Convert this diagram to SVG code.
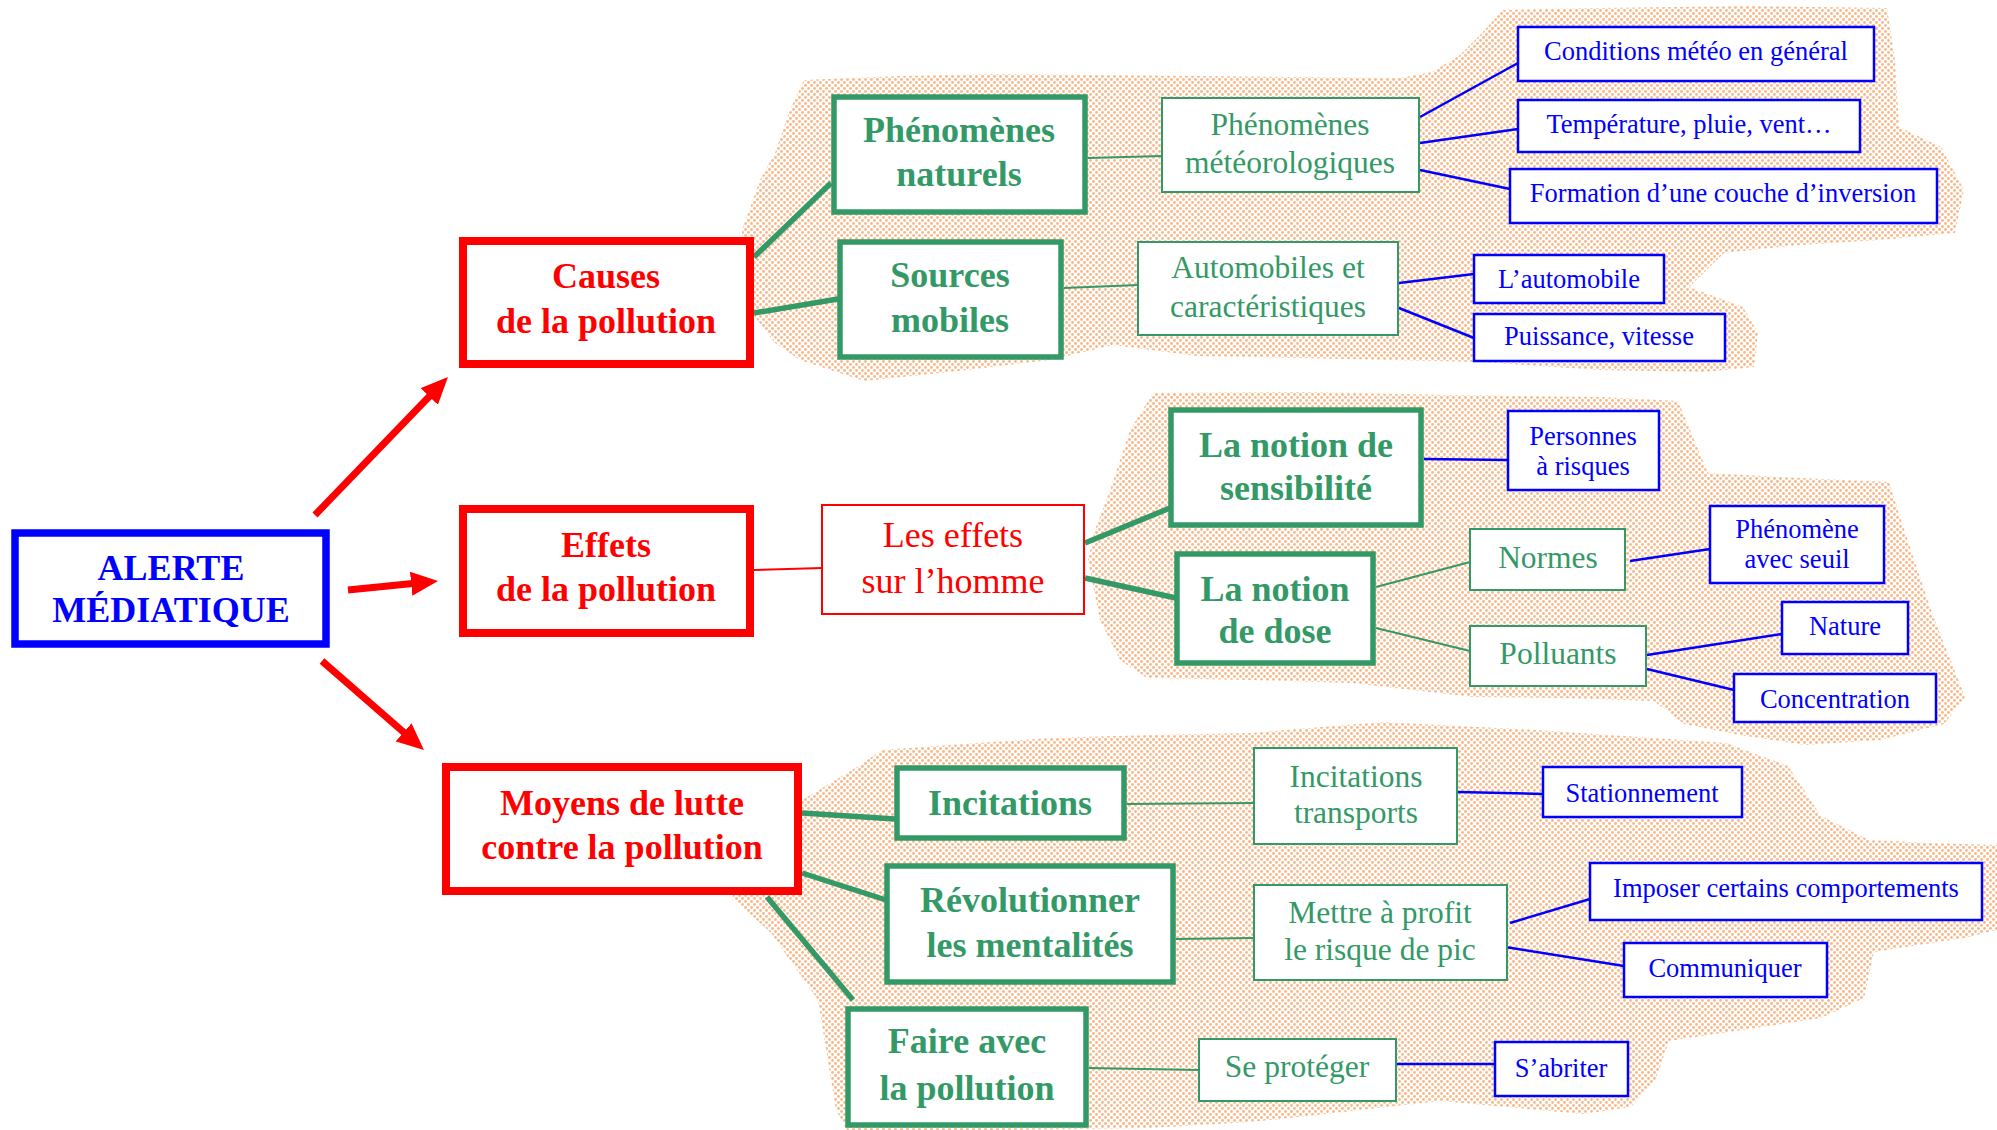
<svg xmlns="http://www.w3.org/2000/svg" width="1997" height="1130" viewBox="0 0 1997 1130">
<style>
text{font-family:"Liberation Serif","Times New Roman",serif;text-anchor:middle}
.b{font-weight:bold;font-size:36px}
.gR{fill:#339966;font-size:31.5px}
.rR{fill:#ff0000;font-size:36px}
.bl{fill:#0000ff;font-size:26.5px}
.boxB{fill:#fff;stroke:#0000ff;stroke-width:7.5}
.boxR{fill:#fff;stroke:#ff0000;stroke-width:8}
.boxG{fill:#fff;stroke:#339966;stroke-width:5.5}
.boxg{fill:#fff;stroke:#339966;stroke-width:2}
.boxr{fill:#fff;stroke:#ff0000;stroke-width:2}
.boxb{fill:#fff;stroke:#0000ff;stroke-width:2.5}
.cG{stroke:#339966;stroke-width:5.5;fill:none}
.cg{stroke:#339966;stroke-width:2;fill:none}
.cr{stroke:#ff0000;stroke-width:2;fill:none}
.cb{stroke:#0000ff;stroke-width:2.5;fill:none}
.arr{stroke:#ff0000;stroke-width:7;fill:none;marker-end:url(#ah)}
.blob{fill:url(#dots);stroke:none}
</style>
<defs>
<pattern id="dots" width="6" height="6" patternUnits="userSpaceOnUse">
<circle cx="1.5" cy="1.5" r="1.45" fill="#f9b887"/>
<circle cx="4.5" cy="4.5" r="1.45" fill="#f9b887"/>
</pattern>
<marker id="ah" markerUnits="userSpaceOnUse" markerWidth="27" markerHeight="24" viewBox="0 0 27 24" refX="9" refY="12" orient="auto">
<path d="M0,0 L27,12 L0,24 z" fill="#ff0000"/>
</marker>
</defs>
<rect width="1997" height="1130" fill="#fff"/>
<g id="backgrounds">
<path class="blob" d="M804,80 L900,76 L1000,74 L1200,76 L1400,78 L1432,72 L1460,55 L1480,35 L1503,10 L1600,8 L1750,6 L1887,8 L1895,60 L1899,127 L1941,147 L1964,190 L1955,233 L1880,240 L1800,245 L1724,253 L1689,287 L1743,307 L1758,333 L1754,367 L1705,372 L1600,370 L1480,362 L1300,358 L1197,356 L1113,345 L1050,360 L950,372 L864,381 L800,360 L775,343 L742,300 L742,230 L760,180 L775,153 L790,110 Z"/>
<path class="blob" d="M1153,393 L1300,392 L1450,395 L1600,397 L1678,401 L1690,430 L1708,473 L1800,478 L1889,482 L1901,520 L1932,613 L1965,697 L1944,724 L1880,740 L1805,745 L1740,735 L1684,724 L1654,701 L1560,698 L1473,697 L1352,683 L1250,680 L1147,678 L1120,660 L1100,620 L1088,560 L1095,530 L1110,490 L1130,430 Z"/>
<path class="blob" d="M882,750 L950,745 L1050,738 L1150,735 L1250,733 L1383,722 L1536,730 L1726,743 L1788,766 L1821,816 L1869,840 L1930,843 L1997,845 L1997,930 L1964,938 L1874,952 L1864,998 L1821,1018 L1669,1041 L1655,1081 L1631,1107 L1583,1114 L1440,1101 L1298,1117 L1250,1122 L1150,1128 L1000,1130 L847,1130 L836,1110 L829,1067 L818,1000 L790,960 L771,933 L740,905 L732,897 L760,830 L807,797 L857,767 Z"/>
</g>
<g id="connectors">
<line class="arr" x1="315" y1="515" x2="435.5" y2="390"/>
<line class="arr" x1="348" y1="590" x2="420.1" y2="582.8"/>
<line class="arr" x1="322" y1="661" x2="410.4" y2="738.2"/>
<line class="cG" x1="754" y1="257" x2="831" y2="183"/>
<line class="cG" x1="754" y1="313" x2="838" y2="299"/>
<line class="cG" x1="1085" y1="543" x2="1170" y2="508"/>
<line class="cG" x1="1085" y1="578" x2="1176" y2="598"/>
<line class="cG" x1="802" y1="813" x2="895" y2="819"/>
<line class="cG" x1="802" y1="873" x2="886" y2="900"/>
<line class="cG" x1="767" y1="897" x2="853" y2="1000"/>
<line class="cg" x1="1088" y1="158" x2="1162" y2="156"/>
<line class="cg" x1="1064" y1="288" x2="1138" y2="285"/>
<line class="cg" x1="1376" y1="587" x2="1470" y2="562"/>
<line class="cg" x1="1376" y1="628" x2="1470" y2="651"/>
<line class="cg" x1="1127" y1="804" x2="1254" y2="803"/>
<line class="cg" x1="1176" y1="939" x2="1254" y2="938"/>
<line class="cg" x1="1089" y1="1068" x2="1199" y2="1070"/>
<line class="cr" x1="754" y1="570" x2="822" y2="568"/>
<line class="cb" x1="1420" y1="117" x2="1518" y2="63"/>
<line class="cb" x1="1420" y1="143" x2="1518" y2="129"/>
<line class="cb" x1="1420" y1="170" x2="1510" y2="189"/>
<line class="cb" x1="1399" y1="283" x2="1474" y2="274"/>
<line class="cb" x1="1399" y1="308" x2="1474" y2="338"/>
<line class="cb" x1="1424" y1="459" x2="1508" y2="460"/>
<line class="cb" x1="1630" y1="561" x2="1710" y2="549"/>
<line class="cb" x1="1647" y1="655" x2="1782" y2="634"/>
<line class="cb" x1="1647" y1="669" x2="1734" y2="690"/>
<line class="cb" x1="1458" y1="792" x2="1543" y2="794"/>
<line class="cb" x1="1510" y1="923" x2="1590" y2="899"/>
<line class="cb" x1="1505" y1="947" x2="1624" y2="966"/>
<line class="cb" x1="1397" y1="1064" x2="1495" y2="1064"/>
</g>
<g id="alerte"><rect class="boxB" x="15" y="533" width="311" height="111"/><text class="b" fill="#0000ff" x="171" y="580">ALERTE</text><text class="b" fill="#0000ff" x="171" y="622">MÉDIATIQUE</text></g>
<g id="causes"><rect class="boxR" x="463" y="241" width="287" height="123"/><text class="b" fill="#ff0000" x="606" y="288">Causes</text><text class="b" fill="#ff0000" x="606" y="333">de la pollution</text></g>
<g id="effets"><rect class="boxR" x="463" y="509" width="287" height="124"/><text class="b" fill="#ff0000" x="606" y="557">Effets</text><text class="b" fill="#ff0000" x="606" y="601">de la pollution</text></g>
<g id="moyens"><rect class="boxR" x="446" y="767" width="352" height="124"/><text class="b" fill="#ff0000" x="622" y="815">Moyens de lutte</text><text class="b" fill="#ff0000" x="622" y="859">contre la pollution</text></g>
<g id="phen-naturels"><rect class="boxG" x="834" y="97" width="251" height="115"/><text class="b" fill="#339966" x="959" y="142">Phénomènes</text><text class="b" fill="#339966" x="959" y="186">naturels</text></g>
<g id="sources-mobiles"><rect class="boxG" x="840" y="242" width="221" height="115"/><text class="b" fill="#339966" x="950" y="287">Sources</text><text class="b" fill="#339966" x="950" y="332">mobiles</text></g>
<g id="sensibilite"><rect class="boxG" x="1171" y="410" width="250" height="115"/><text class="b" fill="#339966" x="1296" y="457">La notion de</text><text class="b" fill="#339966" x="1296" y="500">sensibilité</text></g>
<g id="dose"><rect class="boxG" x="1177" y="554" width="196" height="109"/><text class="b" fill="#339966" x="1275" y="601">La notion</text><text class="b" fill="#339966" x="1275" y="643">de dose</text></g>
<g id="incitations"><rect class="boxG" x="897" y="768" width="227" height="70"/><text class="b" fill="#339966" x="1010" y="815">Incitations</text></g>
<g id="revolutionner"><rect class="boxG" x="887" y="866" width="286" height="116"/><text class="b" fill="#339966" x="1030" y="912">Révolutionner</text><text class="b" fill="#339966" x="1030" y="957">les mentalités</text></g>
<g id="faire-avec"><rect class="boxG" x="848" y="1009" width="238" height="116"/><text class="b" fill="#339966" x="967" y="1053">Faire avec</text><text class="b" fill="#339966" x="967" y="1100">la pollution</text></g>
<g id="phen-meteo"><rect class="boxg" x="1162" y="98" width="257" height="94"/><text class="gR" x="1290" y="135">Phénomènes</text><text class="gR" x="1290" y="173">météorologiques</text></g>
<g id="automobiles"><rect class="boxg" x="1138" y="242" width="260" height="93"/><text class="gR" x="1268" y="278">Automobiles et</text><text class="gR" x="1268" y="317">caractéristiques</text></g>
<g id="normes"><rect class="boxg" x="1470" y="529" width="155" height="61"/><text class="gR" x="1548" y="568">Normes</text></g>
<g id="polluants"><rect class="boxg" x="1470" y="626" width="176" height="60"/><text class="gR" x="1558" y="664">Polluants</text></g>
<g id="incitations-transports"><rect class="boxg" x="1254" y="748" width="203" height="96"/><text class="gR" x="1356" y="787">Incitations</text><text class="gR" x="1356" y="823">transports</text></g>
<g id="mettre-a-profit"><rect class="boxg" x="1254" y="885" width="253" height="95"/><text class="gR" x="1380" y="923">Mettre à profit</text><text class="gR" x="1380" y="960">le risque de pic</text></g>
<g id="se-proteger"><rect class="boxg" x="1199" y="1039" width="197" height="62"/><text class="gR" x="1297" y="1077">Se protéger</text></g>
<g id="effets-homme"><rect class="boxr" x="822" y="505" width="262" height="109"/><text class="rR" x="953" y="547">Les effets</text><text class="rR" x="953" y="593">sur l’homme</text></g>
<g id="conditions"><rect class="boxb" x="1518" y="27" width="356" height="54"/><text class="bl" x="1696" y="60">Conditions météo en général</text></g>
<g id="temperature"><rect class="boxb" x="1518" y="100" width="342" height="52"/><text class="bl" x="1689" y="133">Température, pluie, vent…</text></g>
<g id="formation"><rect class="boxb" x="1510" y="169" width="427" height="54"/><text class="bl" x="1723" y="202">Formation d’une couche d’inversion</text></g>
<g id="automobile"><rect class="boxb" x="1474" y="255" width="190" height="48"/><text class="bl" x="1569" y="288">L’automobile</text></g>
<g id="puissance"><rect class="boxb" x="1474" y="314" width="251" height="47"/><text class="bl" x="1599" y="345">Puissance, vitesse</text></g>
<g id="personnes"><rect class="boxb" x="1508" y="411" width="151" height="79"/><text class="bl" x="1583" y="445">Personnes</text><text class="bl" x="1583" y="475">à risques</text></g>
<g id="phen-seuil"><rect class="boxb" x="1710" y="506" width="174" height="77"/><text class="bl" x="1797" y="538">Phénomène</text><text class="bl" x="1797" y="568">avec seuil</text></g>
<g id="nature"><rect class="boxb" x="1782" y="602" width="126" height="52"/><text class="bl" x="1845" y="635">Nature</text></g>
<g id="concentration"><rect class="boxb" x="1734" y="674" width="202" height="48"/><text class="bl" x="1835" y="708">Concentration</text></g>
<g id="stationnement"><rect class="boxb" x="1543" y="767" width="199" height="50"/><text class="bl" x="1642" y="802">Stationnement</text></g>
<g id="imposer"><rect class="boxb" x="1590" y="863" width="392" height="57"/><text class="bl" x="1786" y="897">Imposer certains comportements</text></g>
<g id="communiquer"><rect class="boxb" x="1624" y="943" width="203" height="54"/><text class="bl" x="1725" y="977">Communiquer</text></g>
<g id="sabriter"><rect class="boxb" x="1495" y="1042" width="133" height="54"/><text class="bl" x="1561" y="1077">S’abriter</text></g>
</svg>
